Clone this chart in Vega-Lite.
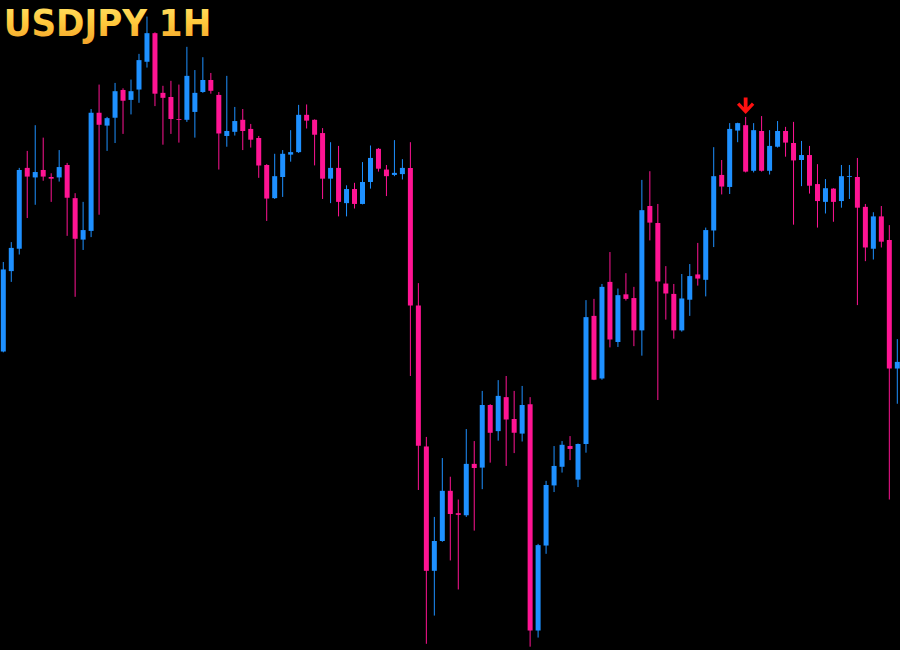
{
  "$schema": "https://vega.github.io/schema/vega-lite/v6.json",
  "width": 900,
  "height": 650,
  "padding": 0,
  "autosize": {"type": "fit", "contains": "padding"},
  "background": "#000000",
  "config": {"view": {"stroke": null}},
  "datasets": {
    "candles": [
      {"i":0,"o":150.304,"h":150.736,"l":150.300,"c":150.700},
      {"i":1,"o":150.692,"h":150.832,"l":150.640,"c":150.804},
      {"i":2,"o":150.800,"h":151.190,"l":150.772,"c":151.180},
      {"i":3,"o":151.190,"h":151.272,"l":150.948,"c":151.148},
      {"i":4,"o":151.144,"h":151.396,"l":151.012,"c":151.170},
      {"i":5,"o":151.180,"h":151.336,"l":151.128,"c":151.148},
      {"i":6,"o":151.146,"h":151.164,"l":151.026,"c":151.138},
      {"i":7,"o":151.144,"h":151.276,"l":151.124,"c":151.194},
      {"i":8,"o":151.204,"h":151.214,"l":150.862,"c":151.046},
      {"i":9,"o":151.044,"h":151.068,"l":150.568,"c":150.848},
      {"i":10,"o":150.844,"h":151.026,"l":150.794,"c":150.890},
      {"i":11,"o":150.886,"h":151.474,"l":150.856,"c":151.456},
      {"i":12,"o":151.456,"h":151.592,"l":150.964,"c":151.398},
      {"i":13,"o":151.394,"h":151.436,"l":151.272,"c":151.430},
      {"i":14,"o":151.432,"h":151.600,"l":151.310,"c":151.560},
      {"i":15,"o":151.566,"h":151.574,"l":151.354,"c":151.514},
      {"i":16,"o":151.518,"h":151.616,"l":151.448,"c":151.560},
      {"i":17,"o":151.568,"h":151.740,"l":151.504,"c":151.710},
      {"i":18,"o":151.702,"h":151.920,"l":151.674,"c":151.840},
      {"i":19,"o":151.840,"h":151.844,"l":151.488,"c":151.548},
      {"i":20,"o":151.552,"h":151.586,"l":151.302,"c":151.528},
      {"i":21,"o":151.532,"h":151.610,"l":151.354,"c":151.426},
      {"i":22,"o":151.426,"h":151.592,"l":151.312,"c":151.422},
      {"i":23,"o":151.422,"h":151.774,"l":151.412,"c":151.634},
      {"i":24,"o":151.460,"h":151.662,"l":151.336,"c":151.552},
      {"i":25,"o":151.556,"h":151.724,"l":151.552,"c":151.614},
      {"i":26,"o":151.614,"h":151.648,"l":151.548,"c":151.562},
      {"i":27,"o":151.542,"h":151.556,"l":151.182,"c":151.356},
      {"i":28,"o":151.344,"h":151.634,"l":151.292,"c":151.368},
      {"i":29,"o":151.364,"h":151.484,"l":151.346,"c":151.416},
      {"i":30,"o":151.422,"h":151.474,"l":151.276,"c":151.368},
      {"i":31,"o":151.378,"h":151.402,"l":151.288,"c":151.326},
      {"i":32,"o":151.334,"h":151.344,"l":151.142,"c":151.202},
      {"i":33,"o":151.204,"h":151.208,"l":150.934,"c":151.042},
      {"i":34,"o":151.044,"h":151.258,"l":151.040,"c":151.150},
      {"i":35,"o":151.146,"h":151.276,"l":151.050,"c":151.258},
      {"i":36,"o":151.254,"h":151.372,"l":151.220,"c":151.266},
      {"i":37,"o":151.266,"h":151.494,"l":151.262,"c":151.446},
      {"i":38,"o":151.446,"h":151.496,"l":151.380,"c":151.418},
      {"i":39,"o":151.422,"h":151.424,"l":151.202,"c":151.350},
      {"i":40,"o":151.358,"h":151.382,"l":151.040,"c":151.138},
      {"i":41,"o":151.138,"h":151.314,"l":151.020,"c":151.190},
      {"i":42,"o":151.190,"h":151.296,"l":150.956,"c":151.026},
      {"i":43,"o":151.020,"h":151.106,"l":150.956,"c":151.088},
      {"i":44,"o":151.088,"h":151.118,"l":150.994,"c":151.016},
      {"i":45,"o":151.016,"h":151.218,"l":151.014,"c":151.122},
      {"i":46,"o":151.122,"h":151.298,"l":151.090,"c":151.238},
      {"i":47,"o":151.282,"h":151.286,"l":151.172,"c":151.186},
      {"i":48,"o":151.182,"h":151.204,"l":151.054,"c":151.150},
      {"i":49,"o":151.156,"h":151.324,"l":151.150,"c":151.166},
      {"i":50,"o":151.160,"h":151.232,"l":151.134,"c":151.190},
      {"i":51,"o":151.190,"h":151.314,"l":150.186,"c":150.526},
      {"i":52,"o":150.526,"h":150.634,"l":149.636,"c":149.850},
      {"i":53,"o":149.846,"h":149.892,"l":148.894,"c":149.246},
      {"i":54,"o":149.246,"h":149.506,"l":149.030,"c":149.390},
      {"i":55,"o":149.390,"h":149.790,"l":149.386,"c":149.632},
      {"i":56,"o":149.632,"h":149.700,"l":149.296,"c":149.520},
      {"i":57,"o":149.524,"h":149.590,"l":149.156,"c":149.516},
      {"i":58,"o":149.514,"h":149.930,"l":149.506,"c":149.762},
      {"i":59,"o":149.762,"h":149.872,"l":149.440,"c":149.742},
      {"i":60,"o":149.744,"h":150.114,"l":149.640,"c":150.046},
      {"i":61,"o":150.046,"h":150.050,"l":149.768,"c":149.912},
      {"i":62,"o":149.920,"h":150.166,"l":149.874,"c":150.090},
      {"i":63,"o":150.084,"h":150.186,"l":149.752,"c":149.976},
      {"i":64,"o":149.978,"h":150.114,"l":149.814,"c":149.912},
      {"i":65,"o":149.908,"h":150.138,"l":149.870,"c":150.046},
      {"i":66,"o":150.050,"h":150.084,"l":148.880,"c":148.958},
      {"i":67,"o":148.958,"h":149.376,"l":148.924,"c":149.370},
      {"i":68,"o":149.368,"h":149.680,"l":149.328,"c":149.660},
      {"i":69,"o":149.658,"h":149.848,"l":149.626,"c":149.752},
      {"i":70,"o":149.748,"h":149.872,"l":149.720,"c":149.854},
      {"i":71,"o":149.848,"h":149.896,"l":149.780,"c":149.834},
      {"i":72,"o":149.686,"h":149.860,"l":149.650,"c":149.858},
      {"i":73,"o":149.858,"h":150.552,"l":149.816,"c":150.470},
      {"i":74,"o":150.476,"h":150.558,"l":150.166,"c":150.168},
      {"i":75,"o":150.174,"h":150.630,"l":150.168,"c":150.616},
      {"i":76,"o":150.640,"h":150.784,"l":150.324,"c":150.362},
      {"i":77,"o":150.350,"h":150.608,"l":150.326,"c":150.576},
      {"i":78,"o":150.580,"h":150.682,"l":150.550,"c":150.558},
      {"i":79,"o":150.562,"h":150.616,"l":150.330,"c":150.406},
      {"i":80,"o":150.406,"h":151.132,"l":150.284,"c":150.986},
      {"i":81,"o":151.006,"h":151.174,"l":150.840,"c":150.926},
      {"i":82,"o":150.924,"h":151.016,"l":150.070,"c":150.642},
      {"i":83,"o":150.632,"h":150.716,"l":150.458,"c":150.584},
      {"i":84,"o":150.582,"h":150.630,"l":150.366,"c":150.406},
      {"i":85,"o":150.406,"h":150.678,"l":150.400,"c":150.560},
      {"i":86,"o":150.554,"h":150.726,"l":150.476,"c":150.668},
      {"i":87,"o":150.676,"h":150.828,"l":150.622,"c":150.656},
      {"i":88,"o":150.650,"h":150.902,"l":150.570,"c":150.890},
      {"i":89,"o":150.888,"h":151.290,"l":150.808,"c":151.150},
      {"i":90,"o":151.156,"h":151.228,"l":151.062,"c":151.100},
      {"i":91,"o":151.098,"h":151.406,"l":151.064,"c":151.378},
      {"i":92,"o":151.370,"h":151.408,"l":151.314,"c":151.406},
      {"i":93,"o":151.396,"h":151.436,"l":151.168,"c":151.172},
      {"i":94,"o":151.176,"h":151.406,"l":151.168,"c":151.372},
      {"i":95,"o":151.368,"h":151.440,"l":151.172,"c":151.176},
      {"i":96,"o":151.176,"h":151.372,"l":151.158,"c":151.296},
      {"i":97,"o":151.292,"h":151.416,"l":151.288,"c":151.368},
      {"i":98,"o":151.368,"h":151.388,"l":151.244,"c":151.312},
      {"i":99,"o":151.310,"h":151.412,"l":150.916,"c":151.226},
      {"i":100,"o":151.228,"h":151.320,"l":151.102,"c":151.252},
      {"i":101,"o":151.252,"h":151.296,"l":151.066,"c":151.104},
      {"i":102,"o":151.112,"h":151.208,"l":150.902,"c":151.030},
      {"i":103,"o":151.026,"h":151.136,"l":150.970,"c":151.092},
      {"i":104,"o":151.090,"h":151.092,"l":150.930,"c":151.026},
      {"i":105,"o":151.030,"h":151.204,"l":150.998,"c":151.150},
      {"i":106,"o":151.146,"h":151.204,"l":151.040,"c":151.150},
      {"i":107,"o":151.146,"h":151.238,"l":150.528,"c":150.998},
      {"i":108,"o":151.002,"h":151.016,"l":150.740,"c":150.806},
      {"i":109,"o":150.800,"h":150.976,"l":150.748,"c":150.956},
      {"i":110,"o":150.956,"h":151.006,"l":150.806,"c":150.834},
      {"i":111,"o":150.842,"h":150.914,"l":149.590,"c":150.222},
      {"i":112,"o":150.222,"h":150.364,"l":150.052,"c":150.254}
    ],
    "signals": [
      {"i":93,"price":151.488}
    ]
  },
  "layer": [
    {
      "data": {"name": "candles"},
      "mark": {"type": "rule", "strokeWidth": 1},
      "encoding": {
        "x": {"field": "i", "type": "quantitative", "scale": {"domain": [-0.1625, 112.3375], "nice": false, "zero": false, "padding": 0}, "axis": null},
        "y": {"field": "l", "type": "quantitative", "scale": {"domain": [148.864, 152.0], "nice": false, "zero": false, "padding": 0}, "axis": null},
        "y2": {"field": "h"},
        "color": {"condition": {"test": "datum.c >= datum.o", "value": "#1E90FF"}, "value": "#FF1493"}
      }
    },
    {
      "data": {"name": "candles"},
      "mark": {"type": "bar", "size": 5},
      "encoding": {
        "x": {"field": "i", "type": "quantitative"},
        "y": {"field": "o", "type": "quantitative"},
        "y2": {"field": "c"},
        "color": {"condition": {"test": "datum.c >= datum.o", "value": "#1E90FF"}, "value": "#FF1493"}
      }
    },
    {
      "data": {"name": "signals"},
      "mark": {"type": "point", "filled": true, "size": 300, "opacity": 1, "color": "#FF1010",
               "shape": "M-0.22,-1 L0.22,-1 L0.22,0.12 L0.72,-0.42 L1,-0.16 L0,0.92 L-1,-0.16 L-0.72,-0.42 L-0.22,0.12 Z"},
      "encoding": {
        "x": {"field": "i", "type": "quantitative"},
        "y": {"field": "price", "type": "quantitative"}
      }
    },
    {
      "data": {"values": [{"label": "USDJPY 1H"}]},
      "mark": {"type": "text", "align": "left", "baseline": "alphabetic", "fontSize": 38, "fontWeight": "bold",
               "font": "Liberation Sans Narrow, DejaVu Sans Condensed, sans-serif",
               "color": {"gradient": "linear", "x1": 0, "y1": 0, "x2": 0, "y2": 1,
                         "stops": [{"offset": 0, "color": "#FFE46A"}, {"offset": 0.5, "color": "#FFC83C"}, {"offset": 1, "color": "#F2A22A"}]}},
      "encoding": {
        "x": {"datum": 0.05, "type": "quantitative"},
        "y": {"datum": 151.826, "type": "quantitative"},
        "text": {"field": "label"}
      }
    }
  ]
}
